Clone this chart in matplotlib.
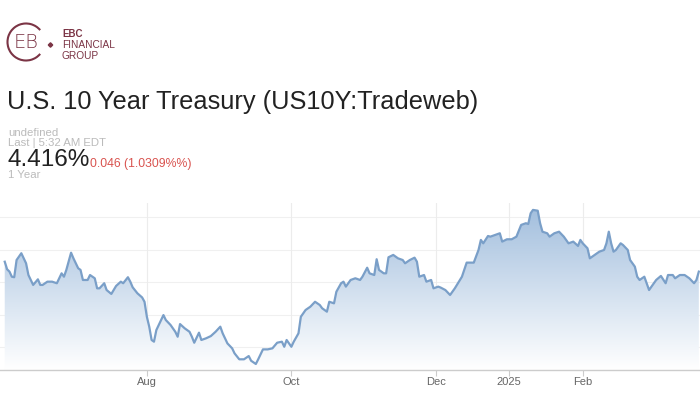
import matplotlib
matplotlib.use("Agg")
import matplotlib.pyplot as plt
import matplotlib.dates as mdates
import numpy as np
import pandas as pd
from matplotlib.patches import Arc, Polygon, RegularPolygon

# ---------------- data ----------------
dates = [
    "2024-06-02", "2024-06-03", "2024-06-04", "2024-06-05", "2024-06-06", "2024-06-07",
    "2024-06-09", "2024-06-10", "2024-06-11", "2024-06-12", "2024-06-13", "2024-06-14",
    "2024-06-16", "2024-06-17", "2024-06-18", "2024-06-20", "2024-06-22", "2024-06-24",
    "2024-06-26", "2024-06-27", "2024-06-28", "2024-06-30", "2024-07-01", "2024-07-03",
    "2024-07-04", "2024-07-05", "2024-07-07", "2024-07-08", "2024-07-10", "2024-07-11",
    "2024-07-12", "2024-07-14", "2024-07-15", "2024-07-17", "2024-07-19", "2024-07-21",
    "2024-07-22", "2024-07-24", "2024-07-25", "2024-07-26", "2024-07-28", "2024-07-30",
    "2024-07-31", "2024-08-01", "2024-08-02", "2024-08-03", "2024-08-04", "2024-08-05",
    "2024-08-07", "2024-08-08", "2024-08-09", "2024-08-11", "2024-08-13", "2024-08-14",
    "2024-08-15", "2024-08-17", "2024-08-19", "2024-08-20", "2024-08-21", "2024-08-23",
    "2024-08-24", "2024-08-26", "2024-08-28", "2024-08-30", "2024-09-01", "2024-09-02",
    "2024-09-04", "2024-09-06", "2024-09-07", "2024-09-09", "2024-09-11", "2024-09-13",
    "2024-09-14", "2024-09-16", "2024-09-17", "2024-09-19", "2024-09-21", "2024-09-23",
    "2024-09-25", "2024-09-27", "2024-09-28", "2024-09-29", "2024-10-01", "2024-10-02",
    "2024-10-04", "2024-10-05", "2024-10-07", "2024-10-09", "2024-10-11", "2024-10-13",
    "2024-10-14", "2024-10-16", "2024-10-17", "2024-10-19", "2024-10-20", "2024-10-22",
    "2024-10-23", "2024-10-24", "2024-10-26", "2024-10-28", "2024-10-30", "2024-10-31",
    "2024-11-02", "2024-11-03", "2024-11-05", "2024-11-06", "2024-11-07", "2024-11-09",
    "2024-11-10", "2024-11-11", "2024-11-13", "2024-11-15", "2024-11-17", "2024-11-18",
    "2024-11-20", "2024-11-22", "2024-11-23", "2024-11-24", "2024-11-26", "2024-11-27",
    "2024-11-29", "2024-11-30", "2024-12-02", "2024-12-03", "2024-12-05", "2024-12-07",
    "2024-12-09", "2024-12-12", "2024-12-14", "2024-12-17", "2024-12-19", "2024-12-20",
    "2024-12-21", "2024-12-23", "2024-12-24", "2024-12-26", "2024-12-28", "2024-12-29",
    "2024-12-31", "2025-01-02", "2025-01-04", "2025-01-06", "2025-01-08", "2025-01-09",
    "2025-01-10", "2025-01-11", "2025-01-13", "2025-01-14", "2025-01-15", "2025-01-17",
    "2025-01-18", "2025-01-20", "2025-01-22", "2025-01-24", "2025-01-26", "2025-01-28",
    "2025-01-30", "2025-01-31", "2025-02-01", "2025-02-03", "2025-02-04", "2025-02-06",
    "2025-02-08", "2025-02-10", "2025-02-11", "2025-02-12", "2025-02-13", "2025-02-14",
    "2025-02-15", "2025-02-17", "2025-02-18", "2025-02-20", "2025-02-21", "2025-02-23",
    "2025-02-24", "2025-02-25", "2025-02-27", "2025-03-01", "2025-03-02", "2025-03-04",
    "2025-03-06", "2025-03-08", "2025-03-09", "2025-03-11", "2025-03-12", "2025-03-14",
    "2025-03-16", "2025-03-18", "2025-03-20", "2025-03-21", "2025-03-22",
]
yields = [
    4.407, 4.349, 4.331, 4.292, 4.288, 4.420,
    4.472, 4.433, 4.395, 4.305, 4.267, 4.229,
    4.272, 4.229, 4.229, 4.254, 4.254, 4.242,
    4.318, 4.292, 4.344, 4.476, 4.433, 4.357,
    4.344, 4.267, 4.267, 4.305, 4.280, 4.203,
    4.203, 4.242, 4.190, 4.160, 4.221, 4.254,
    4.242, 4.288, 4.254, 4.211, 4.165, 4.133,
    4.100, 3.985, 3.909, 3.807, 3.794, 3.883,
    3.960, 3.998, 3.960, 3.922, 3.870, 3.832,
    3.929, 3.896, 3.870, 3.832, 3.786, 3.863,
    3.807, 3.820, 3.837, 3.870, 3.909, 3.858,
    3.781, 3.743, 3.705, 3.659, 3.659, 3.684,
    3.648, 3.623, 3.659, 3.735, 3.735, 3.743,
    3.786, 3.794, 3.755, 3.807, 3.755, 3.794,
    3.858, 3.985, 4.037, 4.062, 4.100, 4.075,
    4.050, 4.024, 4.100, 4.088, 4.177, 4.242,
    4.254, 4.216, 4.267, 4.280, 4.267, 4.292,
    4.361, 4.318, 4.305, 4.426, 4.344, 4.318,
    4.318, 4.441, 4.459, 4.433, 4.420, 4.395,
    4.420, 4.438, 4.407, 4.292, 4.305, 4.254,
    4.267, 4.203, 4.216, 4.209, 4.190, 4.152,
    4.203, 4.292, 4.400, 4.400, 4.497, 4.574,
    4.548, 4.604, 4.599, 4.612, 4.625, 4.561,
    4.579, 4.579, 4.599, 4.689, 4.702, 4.696,
    4.778, 4.804, 4.798, 4.702, 4.637, 4.625,
    4.599, 4.625, 4.637, 4.599, 4.548, 4.561,
    4.528, 4.574, 4.548, 4.510, 4.433, 4.459,
    4.484, 4.497, 4.548, 4.637, 4.548, 4.484,
    4.497, 4.548, 4.535, 4.497, 4.420, 4.369,
    4.292, 4.267, 4.292, 4.190, 4.216, 4.267,
    4.298, 4.242, 4.305, 4.305, 4.280, 4.305,
    4.305, 4.280, 4.242, 4.267, 4.331,
]
tick_dates = ["2024-08-01", "2024-10-01", "2024-12-01", "2025-01-01", "2025-02-01"]
tick_labels = ["Aug", "Oct", "Dec", "2025", "Feb"]
grid_levels = [3.75, 4.00, 4.25, 4.50, 4.75]

title = "U.S. 10 Year Treasury (US10Y:Tradeweb)"
last_price = "4.416%"
change = "0.046 (1.0309%%)"

# ---------------- figure ----------------
plt.rcParams['font.family'] = ['Liberation Sans', 'DejaVu Sans']
W, H = 700, 400
fig = plt.figure(figsize=(7, 4), dpi=100)
fig.patch.set_facecolor("white")

x = mdates.date2num(pd.to_datetime(dates))
y = np.array(yields)

ax = fig.add_axes([0.0, 1 - 370 / H, 1.0, (370 - 203) / H])
ymin, ymax = 3.577, 4.857
xmin = mdates.date2num(pd.Timestamp("2024-05-31"))
xmax = mdates.date2num(pd.Timestamp("2025-03-22")) + 0.5
ax.set_xlim(xmin, xmax)
ax.set_ylim(ymin, ymax)

# gradient fill under line
top_col = np.array([0.64, 0.75, 0.87])
bot_col = np.array([1.0, 1.0, 1.0])
t = np.linspace(0, 1, 256)[:, None]
grad = (top_col[None, :] * (1 - t) + bot_col[None, :] * t)
img = np.repeat(grad[:, None, :], 2, axis=1)
top_y = y.max()
im = ax.imshow(img, extent=[xmin, xmax, ymin, top_y], aspect='auto',
               origin='upper', zorder=1, interpolation='bilinear')
verts = np.vstack([np.column_stack([x, y]), [[x[-1], ymin], [x[0], ymin]]])
poly = Polygon(verts, closed=True, facecolor='none', edgecolor='none')
ax.add_patch(poly)
im.set_clip_path(poly)

ax.plot(x, y, color="#7a9fc8", lw=1.6, zorder=3, solid_joinstyle='round')

# grid
for g in grid_levels:
    ax.axhline(g, color="#f0f0f0", lw=0.8, zorder=0)
tick_x = mdates.date2num(pd.to_datetime(tick_dates))
for tx in tick_x:
    ax.axvline(tx, color="#ececec", lw=0.8, zorder=0)

ax.set_xticks(tick_x)
ax.set_xticklabels(tick_labels)
ax.tick_params(axis='x', colors="#cccccc", length=4, width=0.8, labelsize=8,
               labelcolor="#666666", pad=1)
ax.set_yticks([])
for s in ["top", "left", "right"]:
    ax.spines[s].set_visible(False)
ax.spines["bottom"].set_color("#cccccc")
ax.spines["bottom"].set_linewidth(1.0)
ax.set_facecolor("none")

# ---------------- header texts ----------------
def fx(px):
    return px / W

def fy(py):
    return 1 - py / H

maroon = "#7b3445"
fig.text(fx(7), fy(102), title, fontsize=18.3, color="#222222", va="center", ha="left")
fig.text(fx(8), fy(132.5), "undefined", fontsize=8.2, color="#bbbbbb", va="center")
fig.text(fx(8), fy(143.5), "Last | 5:32 AM EDT", fontsize=8.2, color="#bbbbbb", va="center")
fig.text(fx(7), fy(160), last_price, fontsize=17.5, color="#222222", va="center")
fig.text(fx(90), fy(164), change, fontsize=8.8, color="#d9534f", va="center")
fig.text(fx(8), fy(175.5), "1 Year", fontsize=8.2, color="#bbbbbb", va="center")

# logo
lax = fig.add_axes([0, 1 - 70 / H, 130 / W, 55 / H])
lax.set_xlim(0, 130)
lax.set_ylim(70, 15)
lax.axis("off")
lax.add_patch(Arc((26, 42), 37, 37, theta1=40, theta2=320, color=maroon, lw=1.5))
lax.add_patch(RegularPolygon((50.5, 45), 4, radius=2.2, color=maroon))
lax.text(26, 43, "EB", fontsize=14, color=maroon, ha="center", va="center",
         family=["DejaVu Sans"], fontweight="light")
lax.text(62, 34, "EBC", fontsize=7, color=maroon, fontweight="bold", va="center")
lax.text(62, 45, "FINANCIAL", fontsize=7.3, color=maroon, va="center")
lax.text(62, 56, "GROUP", fontsize=7.3, color=maroon, va="center")

fig.savefig("out.png", dpi=100, facecolor="white")
